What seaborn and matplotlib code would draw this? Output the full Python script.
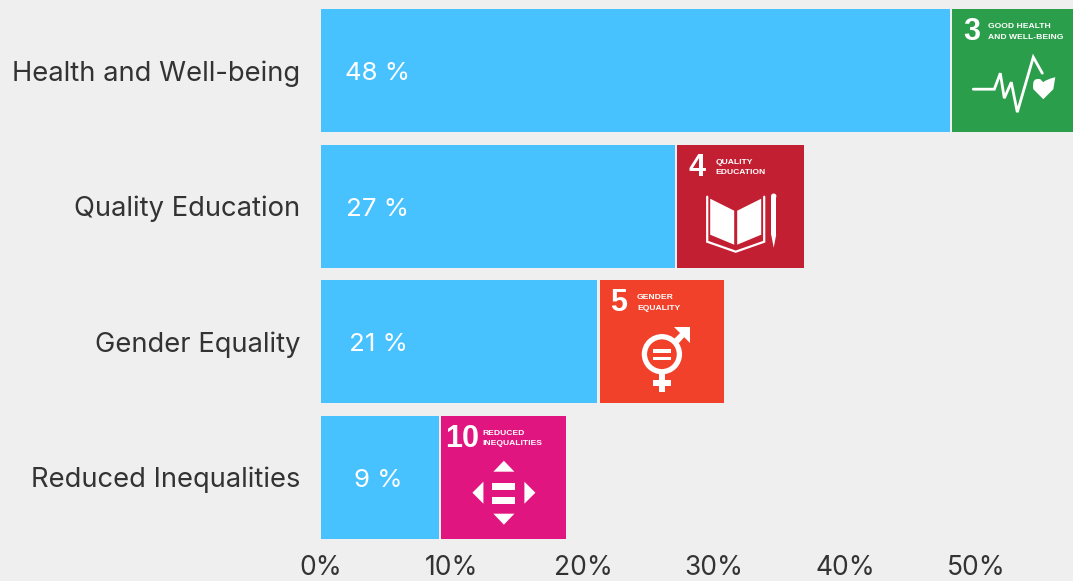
import matplotlib
matplotlib.use("Agg")
import matplotlib.pyplot as plt
from matplotlib.patches import Rectangle, Polygon, Circle, PathPatch
from matplotlib.path import Path
import pandas as pd
import seaborn as sns

categories = ["Health and Well-being", "Quality Education", "Gender Equality", "Reduced Inequalities"]
shares = [48, 27, 21.1, 9]
value_labels = ["48 %", "27 %", "21 %", "9 %"]
xticks = [0, 10, 20, 30, 40, 50]
xtick_labels = ["0%", "10%", "20%", "30%", "40%", "50%"]
goal_numbers = ["3", "4", "5", "10"]
goal_titles = ["GOOD HEALTH\nAND WELL-BEING", "QUALITY\nEDUCATION", "GENDER\nEQUALITY", "REDUCED\nINEQUALITIES"]
goal_colors = ["#2B9E4B", "#C31F33", "#F2412A", "#E0157F"]

BG = "#EFEFEF"
BAR = "#47C2FF"
INK = "#333333"
W, H = 1073, 581
PITCH = 135.5
FIRST = 70.7
PX = 13.1

sns.set_theme(style="white", rc={"figure.facecolor": BG, "axes.facecolor": BG})
plt.rcParams["font.family"] = ["Inter", "DejaVu Sans"]
narrow = "Liberation Sans"

fig = plt.figure(figsize=(W / 100, H / 100), dpi=100)
ax = fig.add_axes([321 / W, (H - 545) / H, (W - 321) / W, 545 / H])
df = pd.DataFrame({"category": categories, "share": shares})
sns.barplot(data=df, x="share", y="category", color=BAR, saturation=1, width=123 / PITCH,
            linewidth=0, ax=ax)
XMAX = 752 / PX
YBOT, YTOP = (545 - FIRST) / PITCH, -FIRST / PITCH
ax.set_xlim(0, XMAX)
ax.set_ylim(YBOT, YTOP)
ax.set_xlabel("")
ax.set_ylabel("")
ax.set_xticks(xticks, xtick_labels)
ax.tick_params(axis="x", length=0, pad=7, labelsize=19, labelcolor=INK)
ax.tick_params(axis="y", length=0, pad=15, labelsize=19.7, labelcolor=INK)
for s in ax.spines.values():
    s.set_visible(False)
for i, t in enumerate(value_labels):
    ax.text(4.35, i + 0.005, t, color="white", fontsize=18.6, ha="center", va="center_baseline")


def poly(a, pts, **kw):
    a.add_patch(Polygon(pts, closed=True, fc="white", ec="none", **kw))


def rect(a, x0, y0, x1, y1):
    a.add_patch(Rectangle((x0, y0), x1 - x0, y1 - y0, fc="white", ec="none"))


def draw_health(a):
    a.plot([21, 42, 48, 52, 59, 65, 81, 90], [80, 80, 64, 89, 73, 103, 48, 64],
           color="white", lw=2.0, solid_joinstyle="miter")
    cx, cy = 91, 78
    codes = [Path.MOVETO, Path.LINETO, Path.CURVE3, Path.CURVE3, Path.LINETO,
             Path.CURVE3, Path.CURVE3, Path.LINETO, Path.CLOSEPOLY]
    verts = [(cx, cy + 12), (cx - 10, cy + 2), (cx - 12, cy - 10), (cx - 3, cy - 8), (cx, cy - 5),
             (cx + 3, cy - 8), (cx + 12, cy - 10), (cx + 10, cy + 2), (cx, cy + 12)]
    a.add_patch(PathPatch(Path(verts, codes), fc="white", ec="none"))


def draw_book(a):
    poly(a, [(33, 54), (57, 66), (57, 100), (33, 90)])
    poly(a, [(60, 66), (84, 54), (84, 90), (60, 100)])
    a.plot([30, 30, 58.5, 87, 87], [52, 97, 107, 97, 52], color="white", lw=1.6,
           solid_joinstyle="miter")
    rect(a, 94, 52, 99, 90)
    poly(a, [(94, 90), (99, 90), (96.5, 103)])
    a.add_patch(Circle((96.5, 51.5), 2.7, fc="white", ec="none"))


def draw_gender(a):
    a.add_patch(Circle((62, 74), 17.5, fc="none", ec="white", lw=3.8))
    rect(a, 53, 69, 71, 72.5)
    rect(a, 53, 76.5, 71, 80)
    rect(a, 59, 93, 65, 112)
    rect(a, 53, 100, 71, 106)
    poly(a, [(74, 59), (83, 50), (87, 54), (78, 64)])
    poly(a, [(74, 47), (90, 47), (90, 63)])


def draw_inequal(a):
    poly(a, [(52, 56), (73, 56), (62.5, 45)])
    poly(a, [(52, 98), (73, 98), (62.5, 109)])
    poly(a, [(42, 66), (42, 88), (31, 77)])
    poly(a, [(83, 66), (83, 88), (94, 77)])
    rect(a, 51, 67, 74, 74)
    rect(a, 51, 81, 74, 88)


drawers = [draw_health, draw_book, draw_gender, draw_inequal]
number_x = [19, 19.5, 19, 20.5]
title_x = [36, 38, 37, 41]
icon_w = [124, 127, 124, 125]

for i, share in enumerate(shares):
    icon_h = 123 / PITCH
    x0 = share + 2.5 / PX
    y0 = i + icon_h / 2
    yspan = YBOT - YTOP
    icon = ax.inset_axes([x0 / XMAX, (YBOT - y0) / yspan, icon_w[i] / PX / XMAX, icon_h / yspan])
    icon.set_xlim(0, icon_w[i])
    icon.set_ylim(123, 0)
    icon.set_facecolor(goal_colors[i])
    icon.set_xticks([])
    icon.set_yticks([])
    for s in icon.spines.values():
        s.set_visible(False)
    icon.text(number_x[i], 23, goal_numbers[i], color="white", fontsize=22, fontweight="bold",
              family=narrow, ha="center", va="center")
    icon.text(title_x[i], 23, goal_titles[i], color="white", fontsize=6.1, fontweight="bold",
              family=narrow, ha="left", va="center", linespacing=1.7)
    drawers[i](icon)

fig.savefig("out.png", dpi=100, facecolor=BG)
